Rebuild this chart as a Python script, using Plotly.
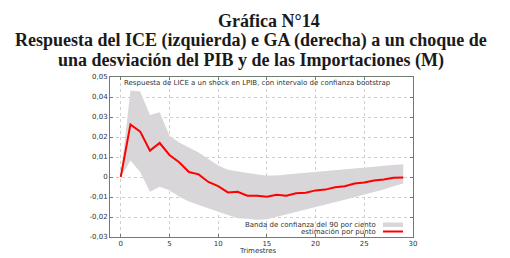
import plotly.graph_objects as go

quarters = list(range(30))
point_est = [0.0, 0.0263, 0.0227, 0.0132, 0.0170, 0.0110, 0.0074, 0.0025, 0.0013, -0.0025,
             -0.0046, -0.0077, -0.0074, -0.0094, -0.0094, -0.0099, -0.0089, -0.0094, -0.0081, -0.0079,
             -0.0067, -0.0063, -0.0051, -0.0046, -0.0033, -0.0028, -0.0018, -0.0013, -0.0004, -0.0002]
upper = [0.0, 0.0433, 0.0428, 0.0310, 0.0324, 0.0206, 0.0173, 0.0148, 0.0123, 0.0090,
         0.0058, 0.0036, 0.0028, 0.0020, 0.0013, 0.0008, 0.0007, 0.0012, 0.0016, 0.0020,
         0.0025, 0.0028, 0.0033, 0.0036, 0.0040, 0.0044, 0.0051, 0.0056, 0.0061, 0.0064]
lower = [0.0, 0.0082, 0.0025, -0.0074, -0.0049, -0.0066, -0.0099, -0.0123, -0.0140, -0.0156,
         -0.0173, -0.0189, -0.0206, -0.0209, -0.0214, -0.0211, -0.0199, -0.0186, -0.0174, -0.0161,
         -0.0150, -0.0137, -0.0125, -0.0112, -0.0101, -0.0087, -0.0074, -0.0063, -0.0046, -0.0033]

y_tickvals = [-0.03, -0.02, -0.01, 0, 0.01, 0.02, 0.03, 0.04, 0.05]
y_ticktext = ["-0,03", "-0,02", "-0,01", "0", "0,01", "0,02", "0,03", "0,04", "0,05"]
x_tickvals = [0, 5, 10, 15, 20, 25, 30]

title_lines = ["Gráfica N°14",
               "Respuesta del ICE (izquierda) e GA (derecha) a un choque de",
               "una desviación del PIB y de las Importaciones (M)"]
inner_title = "Respuesta de LICE a un shock en LPIB, con intervalo de confianza bootstrap"
legend_band = "Banda de confianza del 90 por ciento"
legend_line = "estimación por punto"
x_title = "Trimestres"

band_color = "#d8d6d8"
small = dict(family="DejaVu Sans", size=7, color="#333333")

fig = go.Figure()
fig.add_trace(go.Scatter(x=quarters, y=upper, mode="lines", line=dict(width=0),
                         showlegend=False, hoverinfo="skip"))
fig.add_trace(go.Scatter(x=quarters, y=lower, mode="lines", line=dict(width=0),
                         fill="tonexty", fillcolor=band_color, showlegend=False))
fig.add_trace(go.Scatter(x=quarters, y=point_est, mode="lines",
                         line=dict(color="#ff0000", width=2), showlegend=False))

OFF = 8  # default page margin of the HTML body
W, H = 510 - OFF, 258 - OFF
L, R, T, B = 110 - OFF, 97, 77 - OFF, 21
PW, PH = W - L - R, H - T - B

axis_common = dict(showline=True, linecolor="#6f7d6f", linewidth=1, mirror="allticks",
                   ticks="inside", ticklen=3, tickcolor="#6f7d6f",
                   showgrid=True, gridcolor="#cfcfcf", griddash="dot", gridwidth=1,
                   zeroline=False, tickfont=small)

fig.update_layout(
    width=W, height=H,
    margin=dict(l=L, r=R, t=T, b=B, pad=0, autoexpand=False),
    paper_bgcolor="white", plot_bgcolor="white",
    xaxis=dict(range=[-1.1, 30], tickvals=x_tickvals, automargin=False, **axis_common),
    yaxis=dict(range=[-0.03, 0.05], tickvals=y_tickvals, ticktext=y_ticktext,
               automargin=False, **axis_common),
    showlegend=False,
)

def px_x(p):
    return (p - OFF - L) / PW

def px_y(p):
    return (H - B - (p - OFF)) / PH

title_font = dict(family="Liberation Serif", size=18, color="#1a1a1a")
for i, (line, ypix) in enumerate(zip(title_lines, [21, 41, 61])):
    fig.add_annotation(text="<b>" + line + "</b>", x=px_x(269) if i == 0 else px_x(251),
                       y=px_y(ypix),
                       xref="paper", yref="paper", showarrow=False, font=title_font,
                       xanchor="center", yanchor="middle")

fig.add_annotation(text=inner_title, x=px_x(122), y=px_y(83), xref="paper", yref="paper",
                   showarrow=False, font=small, xanchor="left", yanchor="middle")

fig.add_annotation(text=legend_band, x=px_x(378), y=px_y(224.5), xref="paper", yref="paper",
                   showarrow=False, font=small, xanchor="right", yanchor="middle")
fig.add_annotation(text=legend_line, x=px_x(378), y=px_y(231.5), xref="paper", yref="paper",
                   showarrow=False, font=small, xanchor="right", yanchor="middle")
fig.add_shape(type="rect", xref="paper", yref="paper", x0=px_x(383), x1=px_x(403),
              y0=px_y(227), y1=px_y(222.5), fillcolor=band_color, line=dict(width=0))
fig.add_shape(type="line", xref="paper", yref="paper", x0=px_x(383), x1=px_x(403),
              y0=px_y(231.5), y1=px_y(231.5), line=dict(color="#ff0000", width=2))

fig.add_annotation(text=x_title, x=px_x(258), y=px_y(250.5), xref="paper", yref="paper",
                   showarrow=False, font=small, xanchor="center", yanchor="middle")

fig.write_html("out.html")
